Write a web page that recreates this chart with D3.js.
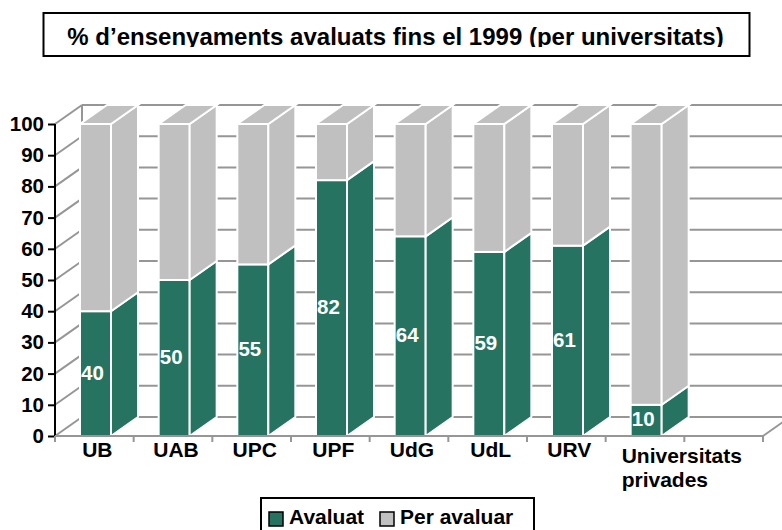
<!DOCTYPE html>
<html>
<head>
<meta charset="utf-8">
<script src="https://cdn.jsdelivr.net/npm/d3@7"></script>
<style>
html, body { margin: 0; padding: 0; background: #fff; overflow: hidden; }
text { font-family: "Liberation Sans", Arial, sans-serif; font-weight: bold; }
</style>
</head>
<body>
<svg id="chart" width="782" height="530"></svg>
<script>
// dades llegides del gràfic
const categories = ['UB', 'UAB', 'UPC', 'UPF', 'UdG', 'UdL', 'URV', 'Universitats privades', ''];
const avaluat = [40, 50, 55, 82, 64, 59, 61, 10, null];
const perAvaluar = [60, 50, 45, 18, 36, 41, 39, 90, null];
const yTicks = [0, 10, 20, 30, 40, 50, 60, 70, 80, 90, 100];
const legendLabels = ['Avaluat', 'Per avaluar'];
const titleText = '% d’ensenyaments avaluats fins el 1999 (per universitats)';

const green = '#267362';
const gray = '#c0c0c0';
const gridColor = '#969696';

const svg = d3.select('#chart');
const margin = { left: 55, right: 763, top: 124, bottom: 436 };
const depth = { x: 27, y: 19 };

const x = d3.scaleBand().domain(d3.range(categories.length)).range([margin.left, margin.right]);
const y = d3.scaleLinear().domain([0, 100]).range([margin.bottom, margin.top]);
const barLeft = 25;
const barWidth = 31;

// títol
svg.append('defs').append('clipPath').attr('id', 'title-clip')
    .append('rect').attr('x', 43).attr('y', 13).attr('width', 707).attr('height', 34);
svg.append('rect')
    .attr('x', 43.5).attr('y', 13).attr('width', 706).attr('height', 43)
    .attr('fill', '#fff').attr('stroke', '#000').attr('stroke-width', 2);
svg.append('text')
    .attr('x', 395.5).attr('y', 45)
    .attr('text-anchor', 'middle')
    .attr('font-size', 24)
    .attr('clip-path', 'url(#title-clip)')
    .text(titleText);

// parets del fons
const walls = svg.append('g').attr('stroke', gridColor).attr('stroke-width', 2).attr('fill', 'none');
yTicks.forEach(t => {
    walls.append('line')
        .attr('x1', margin.left).attr('y1', y(t))
        .attr('x2', margin.left + depth.x).attr('y2', y(t) - depth.y);
    walls.append('line')
        .attr('x1', margin.left + depth.x).attr('y1', y(t) - depth.y)
        .attr('x2', margin.right + depth.x).attr('y2', y(t) - depth.y);
});
walls.append('line')
    .attr('x1', margin.left + depth.x).attr('y1', y(100) - depth.y)
    .attr('x2', margin.left + depth.x).attr('y2', y(0) - depth.y);
walls.append('line')
    .attr('x1', margin.right).attr('y1', y(0))
    .attr('x2', margin.right + depth.x).attr('y2', y(0) - depth.y);

// barres apilades en 3D
function drawSegment(g, i, from, to, color) {
    const x0 = x(i) + barLeft;
    const x1 = x0 + barWidth;
    const seg = g.append('g').attr('fill', color).attr('stroke', '#fff').attr('stroke-width', 2).attr('stroke-linejoin', 'miter');
    seg.append('rect')
        .attr('x', x0).attr('y', y(to))
        .attr('width', barWidth).attr('height', y(from) - y(to));
    seg.append('polygon').attr('points', [
        [x1, y(from)], [x1 + depth.x, y(from) - depth.y],
        [x1 + depth.x, y(to) - depth.y], [x1, y(to)]
    ].join(' '));
    return seg;
}

const bars = svg.append('g');
avaluat.forEach((v, i) => {
    if (v === null) return;
    const g = bars.append('g');
    drawSegment(g, i, 0, v, green);
    const seg = drawSegment(g, i, v, v + perAvaluar[i], gray);
    const x0 = x(i) + barLeft;
    seg.append('polygon').attr('points', [
        [x0, y(100)], [x0 + barWidth, y(100)],
        [x0 + barWidth + depth.x, y(100) - depth.y], [x0 + depth.x, y(100) - depth.y]
    ].join(' '));
});

// etiquetes de valor
svg.append('g').selectAll('text')
    .data(avaluat.filter(v => v !== null))
    .join('text')
    .attr('x', (d, i) => x(i) + barLeft + barWidth / 2 - 3)
    .attr('y', d => y(d / 2) + 6)
    .attr('text-anchor', 'middle')
    .attr('font-size', 20.5)
    .attr('fill', '#fff')
    .text(d => d);

// eix Y
const yAxis = svg.append('g')
    .attr('transform', `translate(${margin.left},0)`)
    .call(d3.axisLeft(y).tickValues(yTicks).tickSize(7).tickPadding(4));
yAxis.selectAll('path, line').attr('stroke', '#000').attr('stroke-width', 2);
yAxis.select('.domain').attr('d', `M0,${y(100)}V${y(0)}`);
yAxis.selectAll('text').attr('font-size', 20.5).attr('fill', '#000')
    .attr('font-family', '"Liberation Sans", Arial, sans-serif').attr('font-weight', 'bold');

// eix X
const floor = svg.append('g').attr('stroke', gridColor).attr('stroke-width', 2);
floor.append('line')
    .attr('x1', margin.left).attr('y1', y(0))
    .attr('x2', margin.right).attr('y2', y(0));
floor.selectAll('line.tick')
    .data(d3.range(categories.length + 1))
    .join('line')
    .attr('class', 'tick')
    .attr('x1', d => margin.left + d * x.step()).attr('y1', y(0))
    .attr('x2', d => margin.left + d * x.step()).attr('y2', y(0) + 6);

const catLabels = svg.append('g').attr('font-size', 21).attr('fill', '#000');
categories.forEach((c, i) => {
    if (!c) return;
    const words = c.split(' ');
    if (words.length === 1) {
        catLabels.append('text')
            .attr('x', x(i) + x.bandwidth() / 2 + 3).attr('y', 457)
            .attr('text-anchor', 'middle')
            .text(c);
    } else {
        words.forEach((w, k) => {
            catLabels.append('text')
                .attr('x', x(i) + 16).attr('y', 463 + k * 24)
                .text(w);
        });
    }
});

// llegenda
svg.append('rect')
    .attr('x', 261).attr('y', 498).attr('width', 273).attr('height', 40)
    .attr('fill', '#fff').attr('stroke', '#000').attr('stroke-width', 2);
const legendX = [269, 380];
const legendColors = [green, gray];
legendLabels.forEach((label, i) => {
    svg.append('rect')
        .attr('x', legendX[i]).attr('y', 512).attr('width', 14).attr('height', 14)
        .attr('fill', legendColors[i]).attr('stroke', '#000').attr('stroke-width', 1.5);
    svg.append('text')
        .attr('x', legendX[i] + 20).attr('y', 524)
        .attr('font-size', 21)
        .text(label);
});
</script>
</body>
</html>
